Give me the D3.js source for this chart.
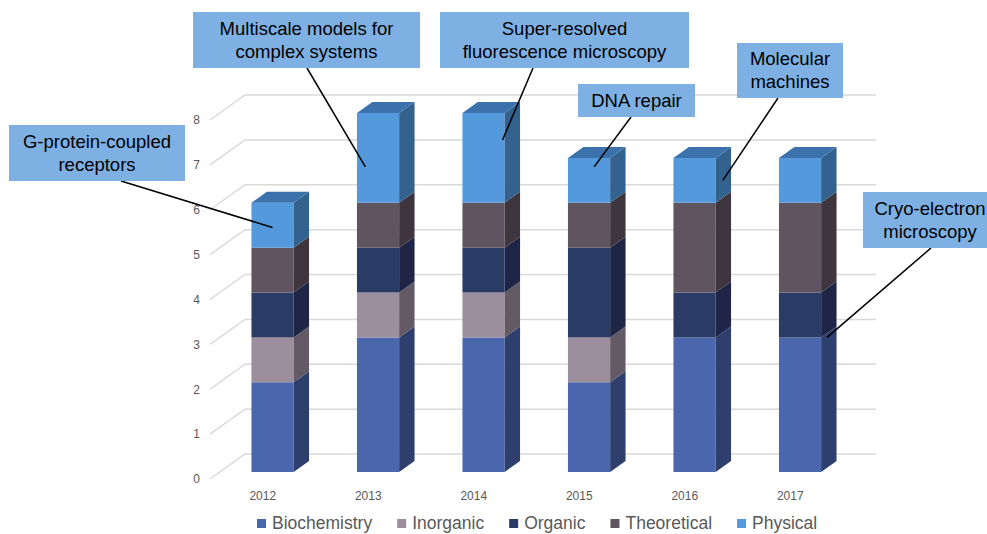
<!DOCTYPE html>
<html>
<head>
<meta charset="utf-8">
<script src="https://cdn.jsdelivr.net/npm/d3@7"></script>
<style>
  body { margin: 0; background: #ffffff; }
  svg { display: block; font-family: Arial, "Liberation Sans", sans-serif; }
</style>
</head>
<body>
<div id="chart"></div>
<script>
// chart data
var years = ["2012", "2013", "2014", "2015", "2016", "2017"];
var seriesNames = ["Biochemistry", "Inorganic", "Organic", "Theoretical", "Physical"];
var biochemistry = [2, 3, 3, 2, 3, 3];
var inorganic = [1, 1, 1, 1, 0, 0];
var organic = [1, 1, 1, 2, 1, 1];
var theoretical = [1, 1, 1, 1, 2, 2];
var physical = [1, 2, 2, 1, 1, 1];
var yTicks = [0, 1, 2, 3, 4, 5, 6, 7, 8];

// callouts: which bar, which value they point at, and the text
var annoYears = ["2012", "2013", "2014", "2015", "2016", "2017"];
var annoValues = [5.45, 6.8, 7.4, 6.8, 6.5, 3];
var annoTexts = [
    ["G-protein-coupled", "receptors"],
    ["Multiscale models for", "complex systems"],
    ["Super-resolved", "fluorescence microscopy"],
    ["DNA repair"],
    ["Molecular", "machines"],
    ["Cryo-electron", "microscopy"]
];

// layout for the callout boxes (not data)
var annoBoxes = [
    {x: 9, y: 125, w: 176, h: 56, lx: 121, tx: 0.5},
    {x: 193, y: 12, w: 227, h: 56, lx: 307, tx: 0.2},
    {x: 440, y: 12, w: 249, h: 56, lx: 533, tx: 0.95},
    {x: 578, y: 84, w: 117, h: 33, lx: 631, tx: 0.62},
    {x: 737, y: 43, w: 106, h: 55, lx: 778, tx: 1.17},
    {x: 863, y: 192, w: 134, h: 56, lx: 931, tx: 1.14}
];

var frontColors = ["#4a67ae", "#9d8e9d", "#2a3b66", "#605460", "#5399dc"];
var sideColors = ["#2e3f6e", "#635a66", "#1e2546", "#3e353f", "#34628f"];
var topColors = ["#3b5490", "#7d717e", "#232f55", "#4e444f", "#3b72ab"];

var width = 987, height = 534;

var svg = d3.select("#chart").append("svg")
    .attr("width", width)
    .attr("height", height);

// oblique depth: z = 0 floor front, z = 1 back wall
var depthX = 35, depthY = -25;
var zFront = 0.28, zBack = 0.72;
function proj(x, y, z) { return [x + z * depthX, y + z * depthY]; }

var x = d3.scaleBand().domain(years).range([210, 843]).paddingInner(0.6).paddingOuter(0.3);
var y = d3.scaleLinear().domain([0, 8]).range([479, 120]);

// grid on back wall + left wall diagonals
var grid = svg.append("g");
yTicks.forEach(function(t) {
    var a = proj(210, y(t), 0), b = proj(210, y(t), 1), c = proj(841, y(t), 1);
    grid.append("polyline")
	.attr("points", [a, b, c].map(function(p) { return p.join(","); }).join(" "))
	.attr("fill", "none")
	.attr("stroke", "#d9d9d9")
	.attr("stroke-width", 1.5);
});

// y axis labels
var yAxis = svg.append("g")
    .attr("transform", "translate(210,0)")
    .call(d3.axisLeft(y).tickValues(yTicks).tickSize(0).tickPadding(10));
yAxis.select(".domain").remove();
yAxis.selectAll("text")
    .style("font-family", "Arial, 'Liberation Sans', sans-serif")
    .style("font-size", "12px")
    .attr("fill", "#595959");

// x axis labels, sit on the floor front
var xAxis = svg.append("g")
    .attr("transform", "translate(0,488)")
    .call(d3.axisBottom(x).tickSize(0).tickPadding(3));
xAxis.select(".domain").remove();
xAxis.selectAll("text")
    .style("font-family", "Arial, 'Liberation Sans', sans-serif")
    .style("font-size", "12px")
    .attr("fill", "#595959");

// stacked 3d bars
var rows = years.map(function(yr, i) {
    return {year: yr, Biochemistry: biochemistry[i], Inorganic: inorganic[i],
	    Organic: organic[i], Theoretical: theoretical[i], Physical: physical[i]};
});
var stacked = d3.stack().keys(seriesNames)(rows);

function pts(list) { return list.map(function(p) { return p.join(","); }).join(" "); }

var bars = svg.append("g");
years.forEach(function(yr, i) {
    var x0 = x(yr), x1 = x0 + x.bandwidth();
    var topIdx = -1;
    stacked.forEach(function(layer, s) { if (layer[i][1] > layer[i][0]) topIdx = s; });
    stacked.forEach(function(layer, s) {
	var v0 = layer[i][0], v1 = layer[i][1];
	if (v1 <= v0) return;
	var yb = y(v0), yt = y(v1);
	bars.append("polygon")
	    .attr("points", pts([proj(x0, yt, zFront), proj(x1, yt, zFront), proj(x1, yb, zFront), proj(x0, yb, zFront)]))
	    .attr("fill", frontColors[s]);
	bars.append("polygon")
	    .attr("points", pts([proj(x1, yb, zFront), proj(x1, yb, zBack), proj(x1, yt, zBack), proj(x1, yt, zFront)]))
	    .attr("fill", sideColors[s]);
	if (s == topIdx) {
	    bars.append("polygon")
		.attr("points", pts([proj(x0, yt, zFront), proj(x1, yt, zFront), proj(x1, yt, zBack), proj(x0, yt, zBack)]))
		.attr("fill", topColors[s]);
	}
    });
});

// callouts
var notes = svg.append("g");
annoYears.forEach(function(yr, i) {
    var b = annoBoxes[i];
    var target = proj(x(yr) + b.tx * x.bandwidth(), y(annoValues[i]), zFront);
    notes.append("line")
	.attr("x1", b.lx).attr("y1", b.y + b.h)
	.attr("x2", target[0]).attr("y2", target[1])
	.attr("stroke", "#000000")
	.attr("stroke-width", 1.5);
});
annoYears.forEach(function(yr, i) {
    var b = annoBoxes[i];
    notes.append("rect")
	.attr("x", b.x).attr("y", b.y)
	.attr("width", b.w).attr("height", b.h)
	.attr("fill", "#7eb0e4");
    var lines = annoTexts[i];
    var cx = b.x + b.w / 2;
    if (i == 5) cx = 930;
    var lh = 23;
    var first = b.y + b.h / 2 - (lines.length - 1) * lh / 2 + 6;
    lines.forEach(function(t, k) {
	notes.append("text")
	    .attr("x", cx)
	    .attr("y", first + k * lh)
	    .attr("text-anchor", "middle")
	    .style("font-size", "18.5px")
	    .attr("fill", "#000000")
	    .text(t);
    });
});

// legend
var legend = svg.append("g");
var lx = 257;
seriesNames.forEach(function(name, s) {
    legend.append("rect")
	.attr("x", lx).attr("y", 519)
	.attr("width", 9).attr("height", 9)
	.attr("fill", frontColors[s]);
    var t = legend.append("text")
	.attr("x", lx + 15)
	.attr("y", 529)
	.style("font-size", "17.5px")
	.attr("fill", "#595959")
	.text(name);
    lx = lx + 15 + t.node().getComputedTextLength() + 25;
});
</script>
</body>
</html>
